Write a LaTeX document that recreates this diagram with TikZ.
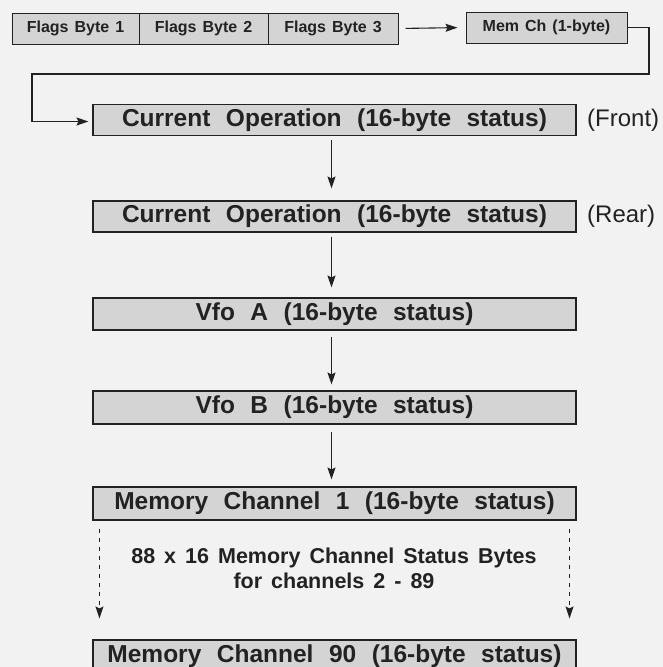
\documentclass[tikz,border=0pt]{standalone}
\usepackage{fontspec}
\setmainfont{Liberation Sans}
\usetikzlibrary{arrows.meta}
\definecolor{bg}{HTML}{F2F2F2}
\definecolor{boxfill}{HTML}{D4D4D4}
\definecolor{ink}{HTML}{222222}
\newcommand\bigfnt{\bfseries\fontsize{24.5}{28}\selectfont\spaceskip 15.5pt\relax}
\newcommand\smallfnt{\bfseries\fontsize{16}{18}\selectfont\spaceskip 6pt\relax}
\newcommand\midfnt{\bfseries\fontsize{21.5}{25}\selectfont\spaceskip 9pt\relax}
\newcommand\sidefnt{\fontsize{24}{28}\selectfont}
\begin{document}
\begin{tikzpicture}[x=1pt,y=-1pt,
  bigbox/.style={draw=ink, line width=1.1pt, fill=boxfill, minimum width=483pt, minimum height=31pt, inner sep=0pt,
    font=\bigfnt, text=ink},
  smallbox/.style={draw=ink, line width=1pt, fill=boxfill, minimum height=31pt, inner sep=0pt,
    font=\smallfnt, text=ink},
  conn/.style={draw=ink, line width=1.1pt, -{Stealth[length=12pt,width=8pt,inset=2pt]}},
  dotconn/.style={conn, dash pattern=on 4pt off 5pt},
  side/.style={font=\sidefnt, text=ink, anchor=west, inner sep=0pt},
  midtext/.style={font=\midfnt, text=ink, align=center, inner sep=0pt}
]
\path[fill=bg] (0,0) rectangle (663,667);
\useasboundingbox (0,0) rectangle (663,667);

% top row
\node[smallbox, minimum width=127pt] (f1) at (75.5,28.5) {Flags Byte 1};
\node[smallbox, minimum width=129pt] (f2) at (203.5,28.5) {Flags Byte 2};
\node[smallbox, minimum width=130pt] (f3) at (333,28.5) {Flags Byte 3};
\node[smallbox, minimum width=161pt] (mem) at (546.5,27.5) {Mem Ch (1-byte)};

% main column
\node[bigbox] (front) at (334.5,120) {Current Operation (16-byte status)};
\node[bigbox] (rear) at (334.5,216.5) {Current Operation (16-byte status)};
\node[bigbox, minimum height=32pt] (vfoa) at (334.5,314) {Vfo A (16-byte status)};
\node[bigbox, minimum height=33pt] (vfob) at (334.5,407.5) {Vfo B (16-byte status)};
\node[bigbox, minimum height=33pt] (mc1) at (334.5,503.5) {Memory Channel 1 (16-byte status)};
\node[bigbox, minimum height=32pt] (mc90) at (334.5,656) {Memory Channel 90 (16-byte status)};

\node[side] (fronttag) at (587,120) {(Front)};
\node[side] (reartag) at (587,216.5) {(Rear)};

\node[midtext] (note) at (334,568) {88 x 16 Memory Channel Status Bytes\\for channels 2 - 89};

% connectors
\draw[conn, shorten <=7pt, shorten >=8pt] (f3.east) -- (mem.west);
\coordinate (r) at (649,74);
\coordinate (l) at (32,74);
\draw[conn, shorten >=4pt] (mem.east) -| (r) -- (l) |- ([yshift=-1.5pt]front.west);

\draw[conn, shorten <=4pt, shorten >=12pt] ([xshift=-3pt]front.south) -- ([xshift=-3pt]rear.north);
\draw[conn, shorten <=4pt, shorten >=10pt] ([xshift=-3pt]rear.south) -- ([xshift=-3pt]vfoa.north);
\draw[conn, shorten <=6pt, shorten >=6pt] ([xshift=-3pt]vfoa.south) -- ([xshift=-3pt]vfob.north);
\draw[conn, shorten <=7pt, shorten >=7pt] ([xshift=-3pt]vfob.south) -- ([xshift=-3pt]mc1.north);

\coordinate (dl1) at ([xshift=7pt]mc1.south west);
\coordinate (dr1) at ([xshift=-7pt]mc1.south east);
\draw[dotconn, shorten <=8pt, shorten >=21pt] (dl1) -- (dl1 |- mc90.north);
\draw[dotconn, shorten <=8pt, shorten >=21pt] (dr1) -- (dr1 |- mc90.north);
\end{tikzpicture}
\end{document}
